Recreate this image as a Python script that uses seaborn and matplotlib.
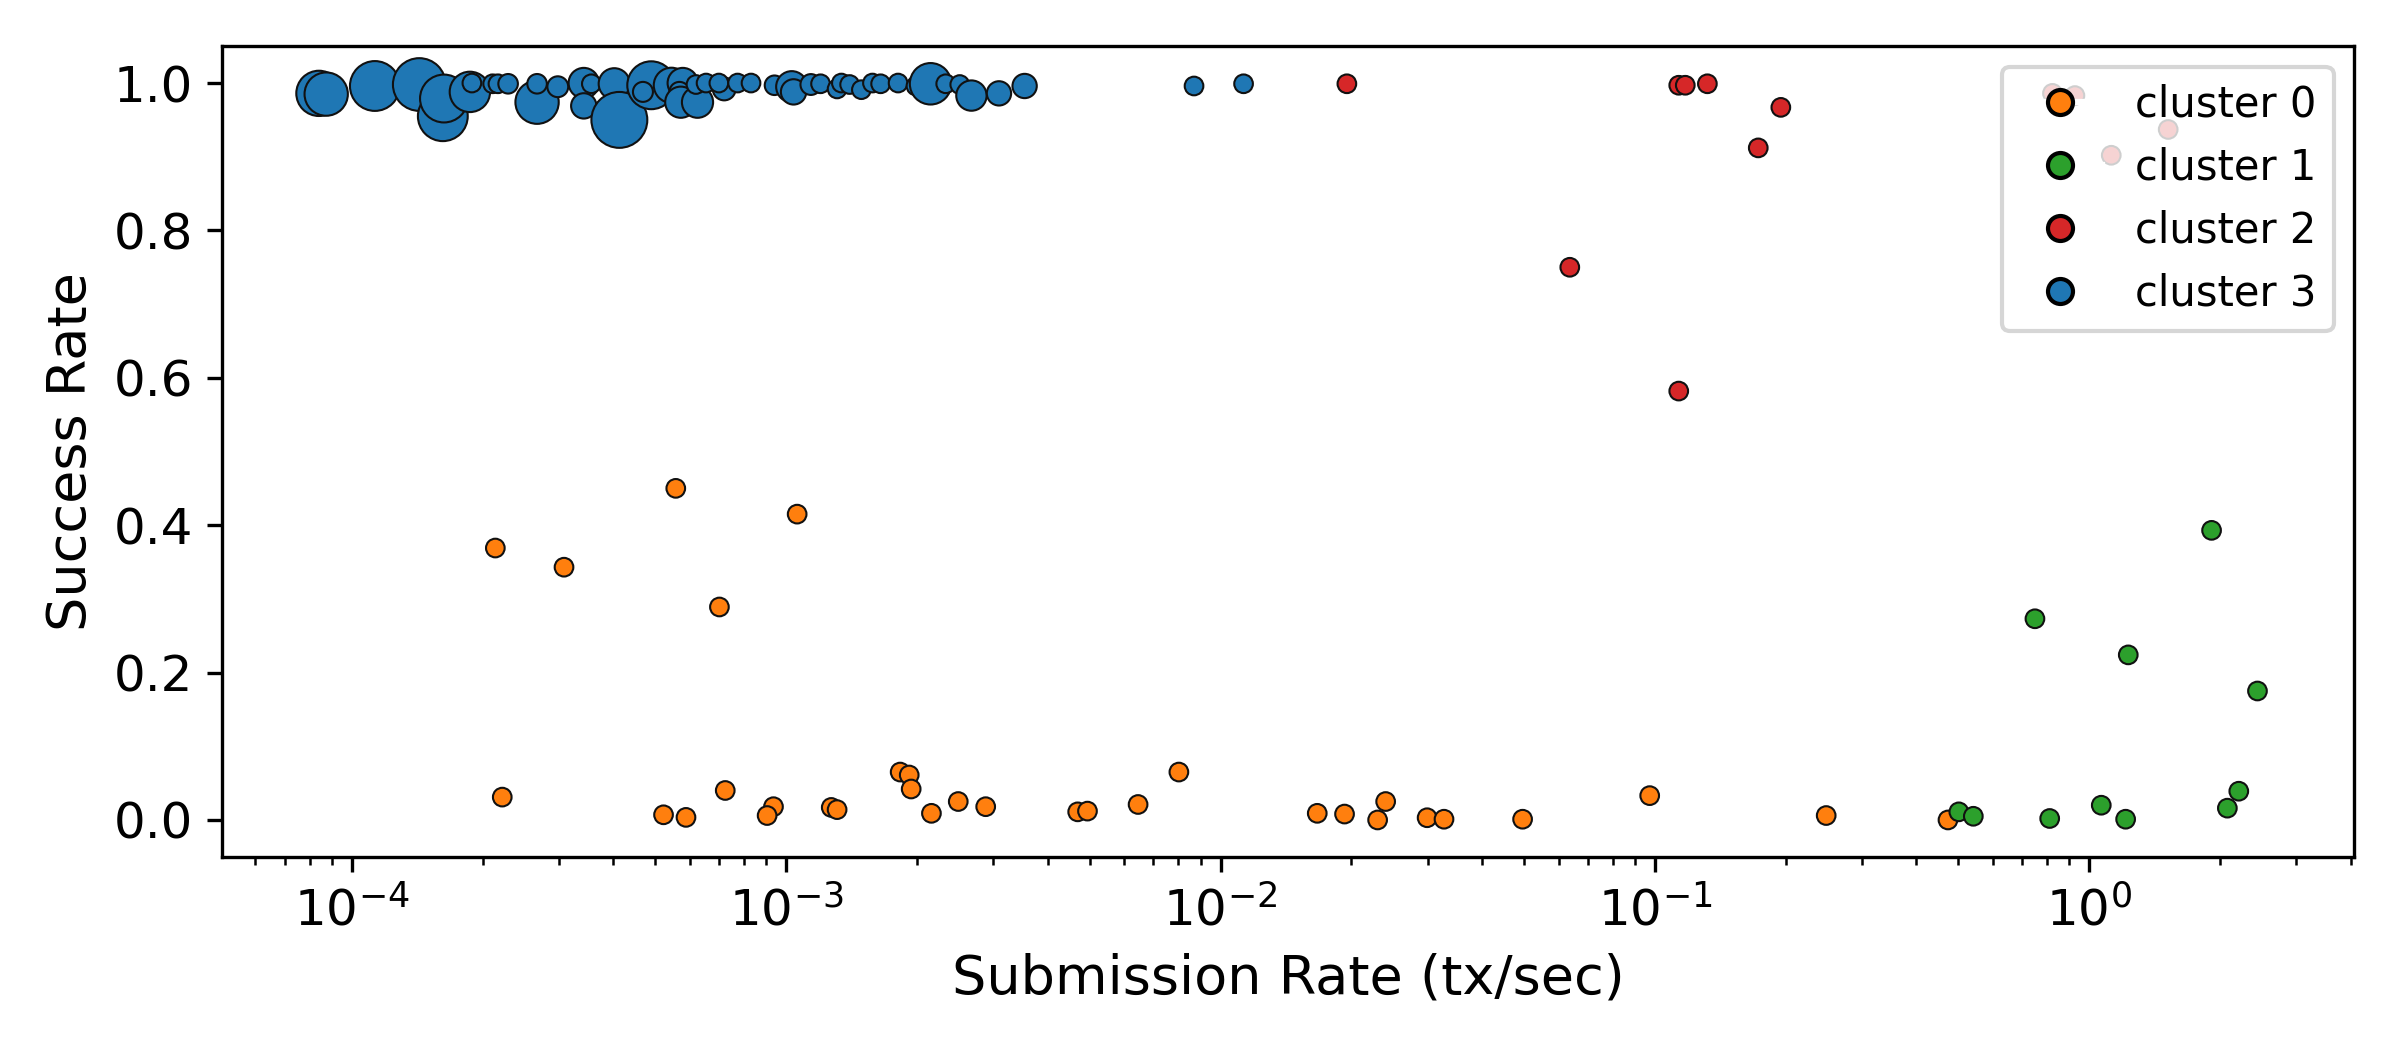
import numpy as np
import pandas as pd
import matplotlib
matplotlib.use("Agg")
import matplotlib.pyplot as plt
from matplotlib.lines import Line2D
import seaborn as sns

# cluster 0 (orange)
c0_rate = [2.14e-4, 3.08e-4, 5.57e-4, 1.06e-3, 7.02e-4, 2.22e-4, 5.22e-4, 5.88e-4,
           7.24e-4, 9.35e-4, 9.04e-4, 1.27e-3, 1.31e-3, 1.83e-3, 1.92e-3, 1.94e-3,
           2.16e-3, 2.49e-3, 2.88e-3, 4.69e-3, 4.94e-3, 6.46e-3, 8.02e-3, 0.0167,
           0.0193, 0.0240, 0.0230, 0.0299, 0.0327, 0.0496, 0.0973, 0.248, 0.473]
c0_succ = [0.369, 0.343, 0.450, 0.415, 0.289, 0.031, 0.007, 0.0035,
           0.040, 0.018, 0.006, 0.017, 0.014, 0.065, 0.061, 0.042,
           0.009, 0.025, 0.018, 0.011, 0.012, 0.021, 0.065, 0.009,
           0.008, 0.025, 0.000, 0.003, 0.001, 0.001, 0.033, 0.006, 0.000]

# cluster 1 (green)
c1_rate = [0.501, 0.541, 0.811, 1.066, 1.213, 2.08, 2.21, 0.750, 1.23, 1.913, 2.44]
c1_succ = [0.011, 0.005, 0.002, 0.020, 0.001, 0.016, 0.039, 0.273, 0.224, 0.393, 0.175]

# cluster 2 (red)
c2_rate = [0.01954, 0.0637, 0.1135, 0.1135, 0.1175, 0.1321, 0.173, 0.195,
           0.823, 0.927, 1.124, 1.52]
c2_succ = [0.999, 0.750, 0.582, 0.997, 0.997, 0.999, 0.912, 0.967,
           0.986, 0.983, 0.902, 0.937]

# cluster 3 (blue), with a size value per point
c3_rate = [8.40e-5, 8.73e-5, 1.13e-4, 1.43e-4, 1.62e-4, 1.63e-4, 1.87e-4, 1.89e-4,
           2.11e-4, 2.17e-4, 2.29e-4, 2.67e-4, 2.67e-4, 2.98e-4, 3.42e-4, 3.42e-4,
           3.56e-4, 4.02e-4, 4.13e-4, 4.89e-4, 4.68e-4, 5.25e-4, 5.44e-4, 5.78e-4,
           5.68e-4, 5.72e-4, 6.25e-4, 6.20e-4, 6.54e-4, 7.20e-4, 7.00e-4, 7.73e-4,
           8.30e-4, 9.40e-4, 1.03e-3, 1.04e-3, 1.14e-3, 1.20e-3, 1.31e-3, 1.34e-3,
           1.40e-3, 1.49e-3, 1.58e-3, 1.65e-3, 1.81e-3, 1.99e-3, 2.15e-3, 2.33e-3,
           2.51e-3, 2.67e-3, 3.09e-3, 3.54e-3, 8.69e-3, 1.13e-2]
c3_succ = [0.986, 0.985, 0.996, 0.998, 0.955, 0.979, 0.988, 1.000,
           0.999, 0.999, 0.999, 0.974, 0.999, 0.995, 1.000, 0.969,
           0.999, 0.999, 0.950, 0.997, 0.988, 1.000, 0.997, 1.000,
           0.988, 0.974, 0.974, 0.998, 1.000, 0.992, 1.000, 1.000,
           1.000, 0.997, 0.995, 0.988, 0.998, 0.999, 0.992, 1.000,
           0.998, 0.991, 1.000, 0.999, 1.000, 0.996, 0.999, 0.999,
           0.998, 0.983, 0.986, 0.996, 0.996, 0.999]
c3_volume = [118, 108, 143, 160, 143, 132, 94, 20,
             20, 20, 22, 108, 22, 25, 53, 37,
             20, 56, 180, 132, 23, 20, 71, 53,
             23, 56, 56, 20, 20, 30, 20, 20,
             20, 22, 56, 37, 25, 20, 20, 20,
             20, 20, 20, 20, 20, 20, 99, 20,
             20, 53, 34, 34, 20, 20]

cluster_names = ["cluster 0", "cluster 1", "cluster 2", "cluster 3"]
cluster_colors = ["#ff7f0e", "#2ca02c", "#d62728", "#1f77b4"]


def build_frame():
    parts = []
    for name, rate, succ, vol in [
        ("cluster 0", c0_rate, c0_succ, [20] * len(c0_rate)),
        ("cluster 1", c1_rate, c1_succ, [20] * len(c1_rate)),
        ("cluster 2", c2_rate, c2_succ, [20] * len(c2_rate)),
        ("cluster 3", c3_rate, c3_succ, c3_volume),
    ]:
        parts.append(pd.DataFrame({"rate": rate, "success": succ,
                                   "volume": vol, "cluster": name}))
    return pd.concat(parts, ignore_index=True)


def main():
    df = build_frame()
    palette = dict(zip(cluster_names, cluster_colors))

    fig, ax = plt.subplots(figsize=(8, 3.5))
    sns.scatterplot(data=df, x="rate", y="success", hue="cluster", size="volume",
                    sizes=(20, 200), size_norm=(20, 200), palette=palette,
                    edgecolor="#111111", linewidth=0.5, alpha=1.0,
                    legend=False, ax=ax)
    ax.set_xscale("log")
    ax.set_xlabel("Submission Rate (tx/sec)", fontsize=13)
    ax.set_ylabel("Success Rate", fontsize=13)
    ax.tick_params(axis="both", which="major", labelsize=12)

    handles = [Line2D([0], [0], marker="o", color="w", markerfacecolor=c,
                      markeredgecolor="k", markersize=6, markeredgewidth=1.0)
               for c in cluster_colors]
    ax.legend(handles, cluster_names, loc="upper right", fontsize=10)

    fig.subplots_adjust(left=0.0925, right=0.981, bottom=0.184, top=0.956)
    fig.savefig("out.png", dpi=300)
    plt.close(fig)


if __name__ == "__main__":
    main()
